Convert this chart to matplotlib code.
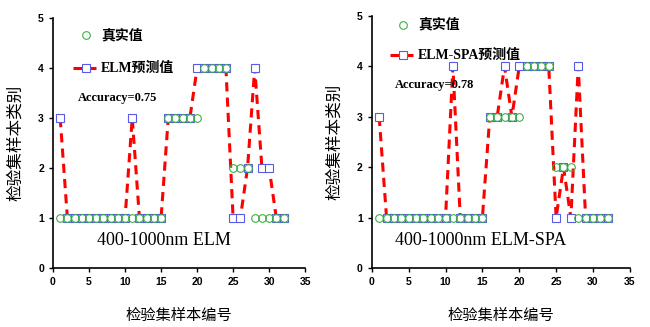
import matplotlib.pyplot as plt
import numpy as np

samples = np.arange(1, 33)
true_vals = [1] * 15 + [3] * 5 + [4] * 4 + [2] * 3 + [1] * 5
elm_pred = [3] + [1] * 9 + [3] + [1] * 4 + [3] * 4 + [4] * 5 + [1, 1, 2, 4, 2, 2, 1, 1]
spa_pred = [3] + [1] * 9 + [4] + [1] * 4 + [3, 3, 4, 3] + [4] * 5 + [1, 2, 1, 4, 1, 1, 1, 1]

panels = [
    (elm_pred, 'ELM预测值', 'Accuracy=0.75', '400-1000nm ELM'),
    (spa_pred, 'ELM-SPA预测值', 'Accuracy=0.78', '400-1000nm ELM-SPA'),
]

cjk = ['Noto Sans CJK SC', 'DejaVu Sans']
mixed = ['Liberation Serif', 'Noto Sans CJK SC']
dash = (0, (3, 2))
sq = dict(marker='s', ms=6, mfc='white', mec='#5a5ae6', mew=0.8)
circ = dict(marker='o', ms=5.5, mfc='none', mec='#3cb043', mew=0.8)

fig = plt.figure(figsize=(6.5, 3.27), dpi=100)
boxes = [[0.0815, 0.180, 0.388, 0.765], [0.572, 0.180, 0.397, 0.771]]

for i, (box, (pred, plabel, acc, title)) in enumerate(zip(boxes, panels)):
    ax = fig.add_axes(box)
    ax.plot(samples, pred, color='red', lw=2.2, ls=dash, zorder=2)
    ax.plot(samples, pred, ls='none', zorder=3, **sq)
    ax.plot(samples, true_vals, ls='none', zorder=4, **circ)
    ax.set_xlim(0, 35)
    ax.set_ylim(0, 5)
    ax.set_xticks(range(0, 36, 5))
    ax.set_yticks(range(0, 6))
    for s in ['top', 'right']:
        ax.spines[s].set_visible(False)
    for s in ['left', 'bottom']:
        ax.spines[s].set_linewidth(1.2)
    ax.tick_params(direction='out', length=3, width=1, labelsize=7.5)
    for lab in ax.get_xticklabels() + ax.get_yticklabels():
        lab.set_fontweight('bold')
        lab.set_family('Liberation Sans')
    ax.set_xlabel('检验集样本编号', family=cjk, fontsize=11, labelpad=14)
    ax.set_ylabel('检验集样本类别', family=cjk, fontsize=12, labelpad=10)

    # legend drawn by hand in axes coordinates
    lx = 0.13 if i == 0 else 0.12
    cy = 0.93 if i == 0 else 0.965
    ax.plot([lx], [cy], transform=ax.transAxes, clip_on=False, **circ)
    ax.text(lx + 0.06, cy, '真实值', transform=ax.transAxes, family=cjk,
            fontweight='bold', fontsize=10, va='center')
    ly = 0.80 if i == 0 else 0.845
    ax.plot([lx - 0.05, lx + 0.04], [ly, ly], transform=ax.transAxes, color='red',
            lw=2.2, ls=dash, clip_on=False)
    ax.plot([lx], [ly], transform=ax.transAxes, clip_on=False, **sq)
    ax.text(lx + 0.06, ly, plabel, transform=ax.transAxes, family=mixed,
            fontweight='bold', fontsize=10, va='center')
    ax.text(lx - 0.03, ly - 0.12, acc, transform=ax.transAxes,
            family='Liberation Serif', fontweight='bold', fontsize=9, va='center')
    ax.text(0.44 if i == 0 else 0.42, 0.11, title, transform=ax.transAxes,
            family='Liberation Serif', fontsize=13, ha='center', va='center')

fig.savefig('out.png', dpi=100)
